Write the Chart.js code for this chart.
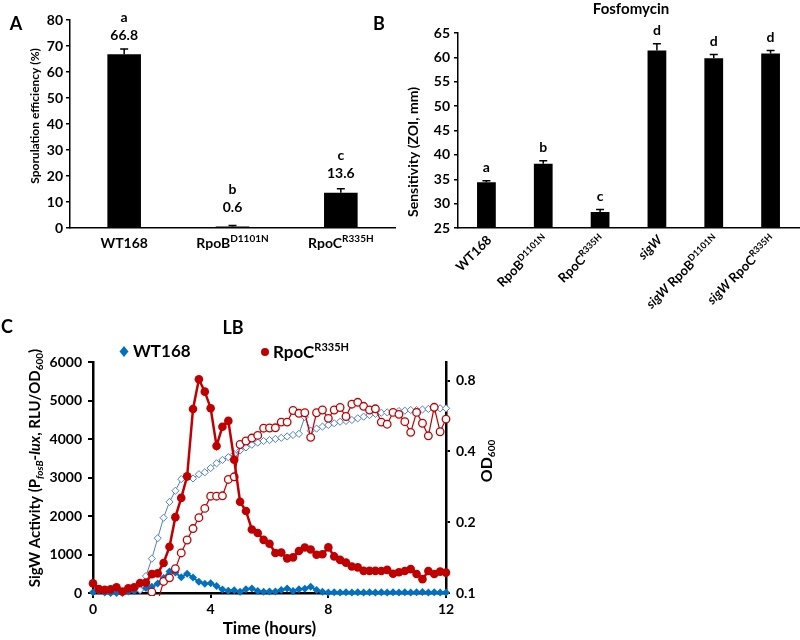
<!DOCTYPE html>
<html><head><meta charset="utf-8">
<script src="https://cdn.jsdelivr.net/npm/chart.js@4.4.1/dist/chart.umd.min.js"></script>
<style>
html,body{margin:0;padding:0;background:#fff;width:800px;height:640px;overflow:hidden;}
.p{position:absolute;}
</style></head>
<body>
<div class="p" style="left:0;top:0;width:400px;height:300px"><canvas id="cA"></canvas></div>
<div class="p" style="left:400px;top:0;width:400px;height:320px"><canvas id="cB"></canvas></div>
<div class="p" style="left:0;top:300px;width:520px;height:340px"><canvas id="cC"></canvas></div>
<script>
// ---------- Panel A data ----------
const categoriesA = ['WT168', 'RpoB^{D1101N}', 'RpoC^{R335H}'];
const sporulation = [66.8, 0.6, 13.6];
const sporulationErr = [2.0, 0.4, 1.5];
const sporulationGroups = ['a', 'b', 'c'];

// ---------- Panel B data ----------
const categoriesB = ['WT168', 'RpoB^{D1101N}', 'RpoC^{R335H}', '*sigW*', '*sigW* RpoB^{D1101N}', '*sigW* RpoC^{R335H}'];
const sensitivity = [34.4, 38.2, 28.3, 61.4, 59.8, 60.8];
const sensitivityErr = [0.3, 0.6, 0.5, 1.4, 0.8, 0.6];
const sensitivityGroups = ['a', 'b', 'c', 'd', 'd', 'd'];

// ---------- Panel C data ----------
const timeHours = [0,0.2,0.4,0.6,0.8,1.0,1.2,1.4,1.6,1.8,2.0,2.2,2.4,2.6,2.8,3.0,3.2,3.4,3.6,3.8,4.0,
  4.2,4.4,4.6,4.8,5.0,5.2,5.4,5.6,5.8,6.0,6.2,6.4,6.6,6.8,7.0,7.2,7.4,7.6,7.8,8.0,
  8.2,8.4,8.6,8.8,9.0,9.2,9.4,9.6,9.8,10.0,10.2,10.4,10.6,10.8,11.0,11.2,11.4,11.6,11.8,12.0];
const wtActivity = [20,50,10,0,0,0, 40,50,80,130,160, 250,390,560,530,410, 500,400,290,240,255,
  180,90,60,70,30, 100,120,50,30,40, 40,80,120,50,95, 110,160,80,30,15,
  20,15,20,15,20, 15,20,15,20,15, 20,15,20,15,20, 25,15,20,15,15];
const rpocActivity = [250,100,80,95,150,40, 120,150,260,270,490, 510,780,1200,1970,2470, 3030,4780,5550,5230,4800,
  3820,4320,4470,3460,2370, 2130,1650,1560,1380,1280, 1040,1050,900,925,1090, 1180,1130,995,1005,1185,
  950,860,790,690,665, 575,575,575,570,600, 500,540,570,620,495, 360,570,495,555,530];
const wtOD = [null,null,null,null,null,null,null,null,0.103,0.118,0.14, 0.171,0.209,0.244,0.272,0.305, 0.312,0.307,0.32,0.326,0.34,
  0.356,0.368,0.378,0.389,0.404, 0.416,0.427,0.436,0.443,0.447, 0.452,0.457,0.463,0.47,0.475, 0.56,0.49,0.50,0.51,0.518,
  0.527,0.535,0.539,0.544,0.553, 0.562,0.571,0.578,0.584,0.586, 0.59,0.594,0.596,0.60,0.60, 0.603,0.606,0.606,0.61,0.61];
const rpocOD = [null,null,null,null,null,null,null,null,null,null,0.101, 0.092,0.112,0.116,0.127,0.148, 0.168,0.188,0.209,0.229,0.258,
  0.258,0.259,0.304,0.312,0.428, 0.443,0.456,0.468,0.502,0.503, 0.504,0.533,0.533,0.597,0.581, 0.584,0.459,0.584,0.60,0.553,
  0.60,0.615,0.563,0.635,0.647, 0.622,0.60,0.607,0.533,0.522, 0.586,0.575,0.535,0.482,0.586, 0.527,0.466,0.616,0.485,0.549];
const odTicks = [0.1, 0.2, 0.4, 0.8];
const activityTicksMax = 6000;

const FAM = 'Lato, "Open Sans", sans-serif';
Chart.defaults.font.family = FAM;
Chart.defaults.color = '#000';

function parseRich(s){
  const parts=[]; const re=/\^\{([^}]*)\}|_\{([^}]*)\}|\*([^*]*)\*|([^^_*]+)/g; let m;
  while((m=re.exec(s))){
    if(m[1]!==undefined) parts.push({t:m[1],mode:'sup'});
    else if(m[2]!==undefined) parts.push({t:m[2],mode:'sub'});
    else if(m[3]!==undefined) parts.push({t:m[3],mode:'it'});
    else parts.push({t:m[4],mode:'n'});
  }
  return parts;
}
function drawRich(ctx, str, x, y, opt){
  const base=opt.size, small=Math.round(base*(opt.smallRatio||0.68));
  const segs=parseRich(str).map(p=>{
    let t=p.t, it=p.mode==='it', sz=base, dy=0;
    if(p.mode==='sup'||p.mode==='sub'){
      sz=small;
      if(/^\*.*\*$/.test(t)){t=t.slice(1,-1);it=true;}
      dy = p.mode==='sup' ? -base*0.3 : base*0.3;
    }
    const font=(it?'italic ':'')+'bold '+sz+'px '+FAM;
    ctx.font=font;
    return {t,font,dy,w:ctx.measureText(t).width};
  });
  const total=segs.reduce((a,s)=>a+s.w,0);
  ctx.save(); ctx.translate(x,y); ctx.rotate(opt.rot||0);
  let cx = opt.align==='center' ? -total/2 : (opt.align==='right' ? -total : 0);
  ctx.textBaseline='middle'; ctx.textAlign='left'; ctx.fillStyle=opt.color||'#000';
  segs.forEach(s=>{ctx.font=s.font; ctx.fillText(s.t,cx,s.dy); cx+=s.w;});
  ctx.restore();
}
function errorBars(ctx, xs, ys, vals, errs, capHalf){
  ctx.save(); ctx.strokeStyle='#000'; ctx.lineWidth=1.5;
  vals.forEach((v,i)=>{
    const cx=xs.getPixelForValue(i), b=ys.getPixelForValue(v), t=ys.getPixelForValue(v+errs[i]);
    ctx.beginPath(); ctx.moveTo(cx,b); ctx.lineTo(cx,t); ctx.moveTo(cx-capHalf,t); ctx.lineTo(cx+capHalf,t); ctx.stroke();
  });
  ctx.restore();
}

// ---------- Panel A ----------
const annotateA = {
  id:'annotateA',
  afterDraw(chart){
    const {ctx, scales:{x,y}} = chart;
    errorBars(ctx, x, y, sporulation, sporulationErr, 4);
    ctx.save();
    ctx.fillStyle='#000'; ctx.textAlign='center'; ctx.textBaseline='middle';
    sporulation.forEach((v,i)=>{
      const cx=x.getPixelForValue(i), top=y.getPixelForValue(v);
      ctx.font='bold 14px '+FAM;
      ctx.fillText(v.toFixed(1), cx, top-19);
      ctx.fillText(sporulationGroups[i], cx, top-37);
      drawRich(ctx, categoriesA[i], cx, 243, {size:14, align:'center'});
    });
    ctx.font='bold 18px '+FAM;
    ctx.fillText('A', 16, 24);
    ctx.fillText('B', 379, 24);
    drawRich(ctx, 'Sporulation efficiency (%)', 35, 116, {size:12, align:'center', rot:-Math.PI/2});
    ctx.restore();
  }
};
new Chart(document.getElementById('cA'), {
  type:'bar',
  data:{labels:categoriesA, datasets:[{data:sporulation, backgroundColor:'#000', borderWidth:0, barPercentage:0.31, categoryPercentage:1}]},
  options:{
    responsive:true, maintainAspectRatio:false, animation:false, devicePixelRatio:1,
    layout:{padding:{left:22,right:5,top:20,bottom:0}},
    plugins:{legend:{display:false}, tooltip:{enabled:false}},
    scales:{
      x:{grid:{display:false}, border:{color:'#000',width:1.5}, ticks:{display:false}, afterFit(s){s.height=72;}},
      y:{min:0,max:80, ticks:{stepSize:10, color:'#000', font:{size:14,weight:'bold'}, padding:3},
         grid:{drawOnChartArea:false, color:'#000', tickLength:4, lineWidth:1.5},
         border:{color:'#000',width:1.5}, afterFit(s){s.width=48;}}
    }
  },
  plugins:[annotateA]
});

// ---------- Panel B ----------
const annotateB = {
  id:'annotateB',
  afterDraw(chart){
    const {ctx, scales:{x,y}} = chart;
    errorBars(ctx, x, y, sensitivity, sensitivityErr, 4);
    ctx.save();
    ctx.fillStyle='#000'; ctx.textAlign='center'; ctx.textBaseline='middle';
    sensitivity.forEach((v,i)=>{
      const cx=x.getPixelForValue(i), top=y.getPixelForValue(v+sensitivityErr[i]);
      ctx.font='bold 14px '+FAM;
      ctx.fillText(sensitivityGroups[i], cx, top-13);
      drawRich(ctx, categoriesB[i], cx+3, 238, {size:13, align:'right', rot:-Math.PI/4});
    });
    drawRich(ctx, 'Fosfomycin', 231, 9, {size:15, align:'center'});
    drawRich(ctx, 'Sensitivity (ZOI, mm)', 13, 152, {size:14, align:'center', rot:-Math.PI/2});
    ctx.restore();
  }
};
new Chart(document.getElementById('cB'), {
  type:'bar',
  data:{labels:categoriesB, datasets:[{data:sensitivity, backgroundColor:'#000', borderWidth:0, barPercentage:0.33, categoryPercentage:1}]},
  options:{
    responsive:true, maintainAspectRatio:false, animation:false, devicePixelRatio:1,
    layout:{padding:{left:5,right:1,top:33,bottom:0}},
    plugins:{legend:{display:false}, tooltip:{enabled:false}},
    scales:{
      x:{grid:{display:false}, border:{color:'#000',width:1.5}, ticks:{display:false}, afterFit(s){s.height=92;}},
      y:{min:25,max:65, ticks:{stepSize:5, color:'#000', font:{size:14,weight:'bold'}, padding:4},
         grid:{drawOnChartArea:false, color:'#000', tickLength:4, lineWidth:1.5},
         border:{color:'#000',width:1.5}, afterFit(s){s.width=53;}}
    }
  },
  plugins:[annotateB]
});

// ---------- Panel C ----------
const pts = arr => arr.map((v,i)=>({x:timeHours[i], y:v}));
const RED='#C00000', BLUE='#0070C0', LBLUE='#4F7FD0';
const annotateC = {
  id:'annotateC',
  afterDraw(chart){
    const ctx=chart.ctx;
    ctx.save();
    ctx.fillStyle='#000'; ctx.textAlign='center'; ctx.textBaseline='middle';
    ctx.font='bold 18px '+FAM; ctx.fillText('C', 7, 27);
    drawRich(ctx, 'LB', 233, 28, {size:18, align:'center'});
    // legend
    ctx.fillStyle=BLUE; ctx.beginPath();
    ctx.moveTo(124,46); ctx.lineTo(128.5,51.5); ctx.lineTo(124,57); ctx.lineTo(119.5,51.5); ctx.closePath(); ctx.fill();
    drawRich(ctx, 'WT168', 133, 52, {size:17, align:'left'});
    ctx.fillStyle=RED; ctx.beginPath(); ctx.arc(265,52,4,0,Math.PI*2); ctx.fill();
    drawRich(ctx, 'RpoC^{R335H}', 273, 53, {size:17, align:'left', smallRatio:0.62});
    // axis titles
    drawRich(ctx, 'SigW Activity (P_{*fosB*}-*lux*, RLU/OD_{600})', 35, 168, {size:15, align:'center', rot:-Math.PI/2, smallRatio:0.65});
    drawRich(ctx, 'OD_{600}', 487, 161, {size:16, align:'center', rot:-Math.PI/2, smallRatio:0.65});
    ctx.restore();
  }
};
new Chart(document.getElementById('cC'), {
  type:'line',
  data:{datasets:[
    {label:'RpoC activity', data:pts(rpocActivity), yAxisID:'y', borderColor:RED, backgroundColor:RED, borderWidth:2.5,
      pointRadius:4.3, pointBorderWidth:0, pointBackgroundColor:RED, tension:0, clip:false},
    {label:'RpoC OD600', data:pts(rpocOD), yAxisID:'y1', borderColor:RED, backgroundColor:'#fff', borderWidth:1.2,
      pointRadius:3.8, pointBorderWidth:1.3, pointBackgroundColor:'#fff', tension:0, clip:{left:6,right:6,top:6,bottom:3}},
    {label:'WT168 OD600', data:pts(wtOD), yAxisID:'y1', borderColor:LBLUE, backgroundColor:'#fff', borderWidth:1,
      pointStyle:'rectRot', pointRadius:3.6, pointBorderWidth:1, pointBackgroundColor:'#fff', tension:0, clip:{left:6,right:6,top:6,bottom:3}},
    {label:'WT168 activity', data:pts(wtActivity), yAxisID:'y', borderColor:BLUE, backgroundColor:BLUE, borderWidth:2,
      pointStyle:'rectRot', pointRadius:4, pointBorderWidth:0, pointBackgroundColor:BLUE, tension:0, clip:false}
  ]},
  options:{
    responsive:true, maintainAspectRatio:false, animation:false, devicePixelRatio:1,
    layout:{padding:{left:0,right:0,top:62,bottom:0}},
    plugins:{legend:{display:false}, tooltip:{enabled:false}},
    scales:{
      x:{type:'linear', min:0, max:12,
         ticks:{stepSize:4, color:'#000', font:{size:14,weight:'bold'}, padding:3, callback:v=>String(v)},
         grid:{drawOnChartArea:false, color:'#000', tickLength:5, lineWidth:2},
         border:{color:'#000', width:2.5},
         title:{display:true, text:'Time (hours)', color:'#000', font:{size:17,weight:'bold'}, padding:{top:0,bottom:1}},
         afterFit(s){s.height=47;}},
      y:{position:'left', min:0, max:activityTicksMax,
         ticks:{stepSize:1000, color:'#000', font:{size:14,weight:'bold'}, padding:6, callback:v=>String(v)},
         grid:{drawOnChartArea:false, color:'#000', tickLength:5, lineWidth:2},
         border:{color:'#000', width:2.5}, afterFit(s){s.width=93;}},
      y1:{type:'logarithmic', position:'right', min:0.1, max:0.96,
         afterBuildTicks(s){ s.ticks = odTicks.map(v=>({value:v})); },
         ticks:{autoSkip:false, color:'#000', font:{size:14,weight:'bold'}, padding:6, callback:v=>String(v)},
         grid:{drawOnChartArea:false, color:'#000', tickLength:4, lineWidth:2},
         border:{color:'#000', width:2.5}, afterFit(s){s.width=74;}}
    }
  },
  plugins:[annotateC]
});
</script>
</body></html>
